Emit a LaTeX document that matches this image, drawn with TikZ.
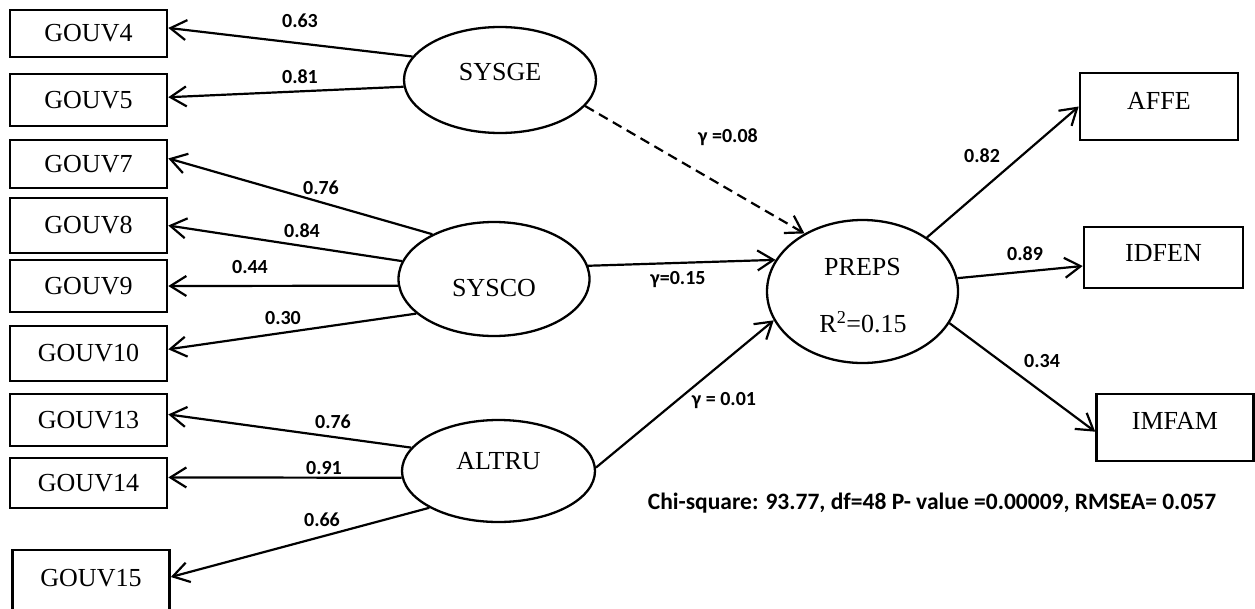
\documentclass[tikz,border=0pt]{standalone}
\usepackage{fontspec}
\setmainfont{Liberation Serif}
\newfontfamily\coeffont{Carlito}
\usetikzlibrary{arrows.meta,shapes.geometric}
\begin{document}
\begin{tikzpicture}[x=1pt,y=-1pt,
  obs/.style={draw,line width=2.6pt,rectangle,inner sep=0pt,minimum width=157pt,
    font=\fontsize{26}{30}\selectfont},
  lat/.style={draw,line width=2.3pt,ellipse,inner sep=0pt,
    font=\fontsize{26}{30}\selectfont},
  load/.style={line width=2.2pt,-{Straight Barb[length=16pt,width=20pt]}},
  coef/.style={inner sep=0pt,text height=12.6pt,text depth=0pt,
    font=\coeffont\bfseries\fontsize{20}{24}\selectfont}]
\useasboundingbox (0,0) rectangle (1255,608);
\clip (0,0) rectangle (1255,608);

% observed indicators of the exogenous constructs
\node[obs,minimum height=47pt] (g4)  at (88.5,33.5) {GOUV4};
\node[obs,minimum height=52pt] (g5)  at (88.5,100)  {GOUV5};
\node[obs,minimum height=48pt] (g7)  at (88.5,164)  {GOUV7};
\node[obs,minimum height=55pt] (g8)  at (88.5,225.5){GOUV8};
\node[obs,minimum height=52pt] (g9)  at (88.5,286)  {GOUV9};
\node[obs,minimum height=55pt] (g10) at (88.5,353.5){GOUV10};
\node[obs,minimum height=52pt] (g13) at (88.5,420)  {GOUV13};
\node[obs,minimum height=50pt] (g14) at (88.5,483)  {GOUV14};
\node[obs,minimum height=68pt,text depth=12pt] (g15) at (91,584) {GOUV15};

% indicators of the endogenous construct
\node[obs,minimum width=158pt,minimum height=67pt,text depth=11pt] (affe)  at (1159,106.5)  {AFFE};
\node[obs,minimum width=159pt,minimum height=61pt,text depth=9pt]  (idfen) at (1163.5,257.5) {IDFEN};
\node[obs,minimum width=157pt,minimum height=67pt,text depth=13pt] (imfam) at (1175,427.5)   {IMFAM};

% latent variables
\node[lat,minimum width=192pt,minimum height=106pt,text depth=16pt] (sysge) at (500,80)    {SYSGE};
\node[lat,minimum width=191pt,minimum height=114pt,text height=36pt] (sysco) at (494,279)   {SYSCO};
\node[lat,minimum width=193pt,minimum height=102pt,text depth=20pt] (altru) at (498.5,471) {ALTRU};
\node[lat,minimum width=191pt,minimum height=143pt,text depth=49pt] (preps) at (862.5,291.5) {PREPS};
\node[inner sep=0pt,font=\fontsize{26}{30}\selectfont] (r2) at (863,322) {R\textsuperscript{2}=0.15};

% measurement paths
\draw[load] (sysge.165.7) -- (g4.4);
\draw[load] (sysge.184.7) -- (g5.2);
\draw[load] (sysco.144.1) -- (g7.4);
\draw[load] (sysco.169.3) -- (g8.east);
\draw[load] (sysco.184.8) -- (g9.east);
\draw[load] (sysco.204.4) -- (g10.3);
\draw[load] (altru.165.6) -- (g13.4);
\draw[load] (altru.184.1) -- (g14.4);
\draw[load] (altru.208)   -- (g15.5);
\draw[load] (preps.40.6)  -- (affe.west);
\draw[load] (preps.8.6)   -- (idfen.186.4);
\draw[load] (preps.340.4) -- (imfam.183.3);

% structural paths
\draw[load,dash pattern=on 10pt off 6pt] (sysge.343.6) -- (preps.135);
\draw[load] (sysco.8.3) -- (preps.160.8);
\draw[load] (altru.2.3) -- (preps.198.4);

% coefficients
\node[coef] (c4)  at (300,21)  {0.63};
\node[coef] (c5)  at (300,77)  {0.81};
\node[coef] (c7)  at (321,188) {0.76};
\node[coef] (c8)  at (302,231) {0.84};
\node[coef] (c9)  at (250,267) {0.44};
\node[coef] (c10) at (283,318) {0.30};
\node[coef] (c13) at (333,422) {0.76};
\node[coef] (c14) at (324,468) {0.91};
\node[coef] (c15) at (322,520) {0.66};
\node[coef] (caf) at (982,156) {0.82};
\node[coef] (cid) at (1025,254) {0.89};
\node[coef] (cim) at (1042,361) {0.34};
\node[coef] (gge) at (728,136) {γ =0.08};
\node[coef] (gco) at (678,278) {γ=0.15};
\node[coef] (gal) at (724,399) {γ = 0.01};

% fit statistics
\node[coef,text height=15pt,font=\coeffont\bfseries\fontsize{23.5}{28}\selectfont] (fit) at (932,502)
  {Chi-square: 93.77, df=48 P- value =0.00009, RMSEA= 0.057};
\end{tikzpicture}
\end{document}
